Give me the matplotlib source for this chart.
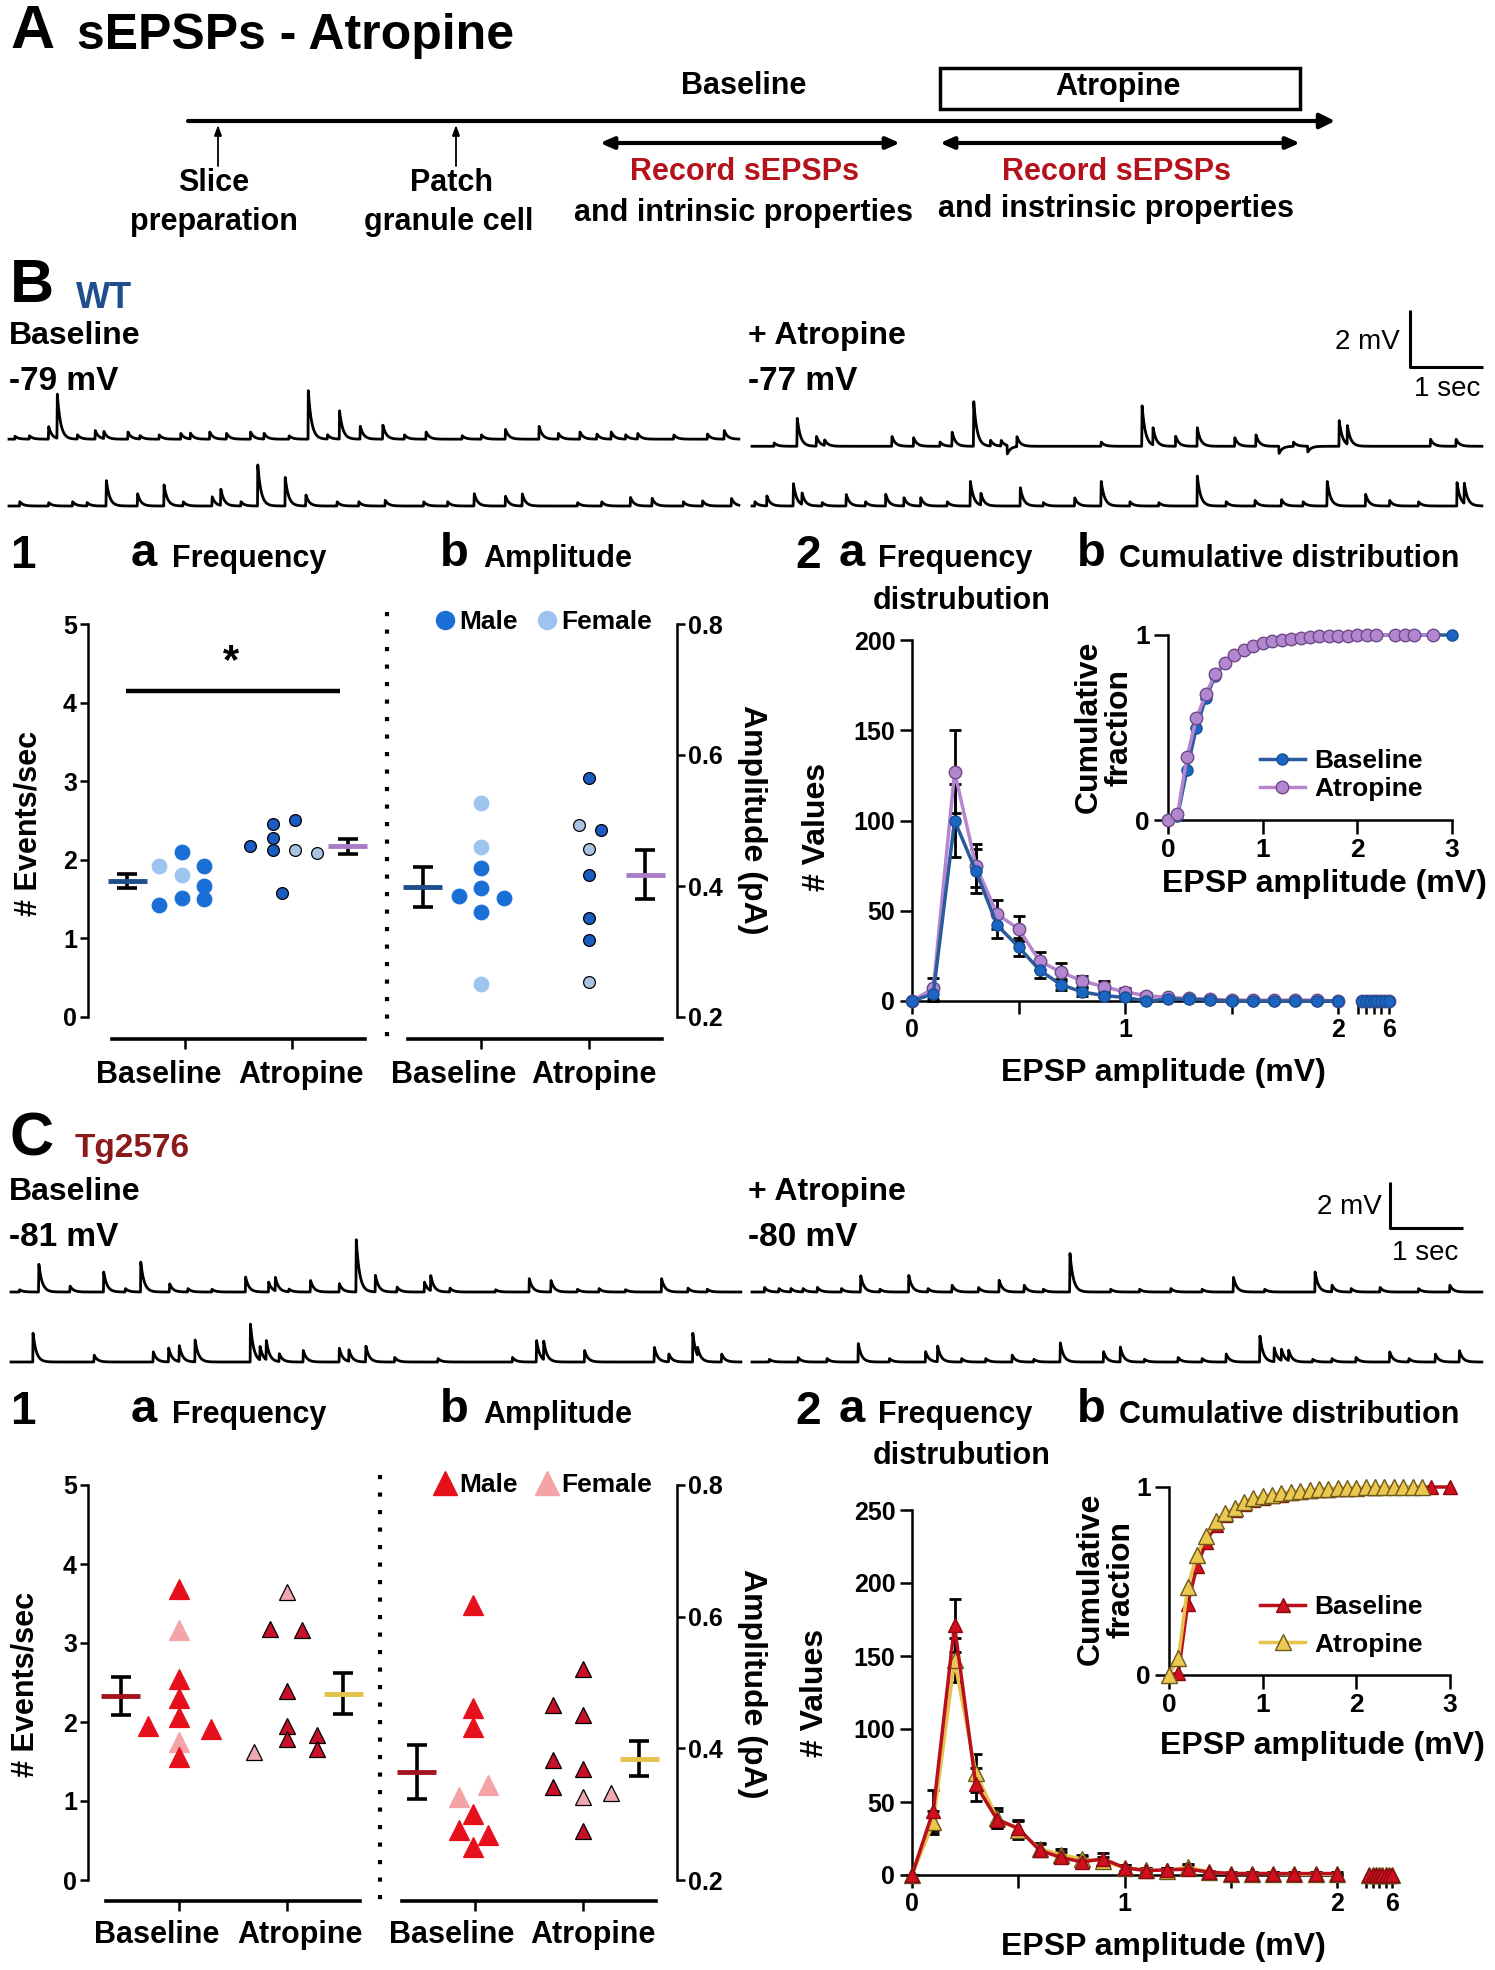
import numpy as np
import matplotlib
matplotlib.use('Agg')
import matplotlib.pyplot as plt
from matplotlib.lines import Line2D
from matplotlib.patches import Rectangle

W, H = 1495, 1970
plt.rcParams['font.family'] = ['Liberation Sans', 'DejaVu Sans']
plt.rcParams['font.weight'] = 'bold'
plt.rcParams['axes.labelweight'] = 'bold'
plt.rcParams['axes.linewidth'] = 1.8

# ---------------- data ----------------
groups = ['Baseline', 'Atropine']

# WT frequency (events/sec)
wt_freq_base = [1.92, 1.43, 2.10, 1.81, 1.52, 1.92, 1.67, 1.50]
wt_freq_base_sex = ['F', 'M', 'M', 'F', 'M', 'M', 'M', 'M']
wt_freq_atr = [2.18, 2.46, 2.28, 2.13, 1.58, 2.51, 2.13, 2.09]
wt_freq_atr_sex = ['M', 'M', 'M', 'M', 'M', 'M', 'F', 'F']
wt_freq_sem = [0.09, 0.10]
# WT amplitude
wt_amp_base = [0.385, 0.526, 0.460, 0.427, 0.397, 0.360, 0.251, 0.382]
wt_amp_base_sex = ['M', 'F', 'F', 'M', 'M', 'M', 'F', 'M']
wt_amp_atr = [0.493, 0.565, 0.457, 0.417, 0.351, 0.318, 0.254, 0.485]
wt_amp_atr_sex = ['F', 'M', 'F', 'M', 'M', 'M', 'F', 'M']
wt_amp_sem = [0.030, 0.037]

# Tg2576 frequency
tg_freq_base = [1.95, 3.68, 3.16, 2.54, 2.30, 2.06, 1.75, 1.56, 1.91]
tg_freq_base_sex = ['M', 'M', 'F', 'M', 'M', 'M', 'F', 'M', 'M']
tg_freq_atr = [1.62, 3.18, 3.64, 2.39, 1.95, 1.78, 3.16, 1.84, 1.66]
tg_freq_atr_sex = ['F', 'M', 'F', 'M', 'M', 'M', 'M', 'M', 'M']
tg_freq_sem = [0.24, 0.26]
# Tg2576 amplitude
tg_amp_base = [0.326, 0.276, 0.618, 0.461, 0.432, 0.300, 0.250, 0.345, 0.268]
tg_amp_base_sex = ['F', 'M', 'M', 'M', 'M', 'M', 'M', 'F', 'M']
tg_amp_atr = [0.466, 0.382, 0.342, 0.521, 0.450, 0.368, 0.326, 0.274, 0.332]
tg_amp_atr_sex = ['M', 'M', 'M', 'M', 'M', 'M', 'F', 'M', 'F']
tg_amp_sem = [0.041, 0.026]

# frequency distributions (# values per 0.1 mV bin)
dist_bins = [0.0, 0.1, 0.2, 0.3, 0.4, 0.5, 0.6, 0.7, 0.8, 0.9, 1.0,
             1.1, 1.2, 1.3, 1.4, 1.5, 1.6, 1.7, 1.8, 1.9, 2.0]
tail_bins = [2.5, 3.0, 3.5, 4.0, 4.5, 5.0, 5.5, 6.0]
tail_counts = [0, 0, 0, 0, 0, 0, 0, 0]
wt_dist_base = [0, 4, 100, 72, 42, 30, 17, 9, 5, 3, 2, 0, 1, 1, 0.5, 0, 0, 0, 0, 0, 0]
wt_dist_base_sem = [0, 4, 20, 12, 7, 5, 4, 3, 2, 1, 1, 0.5, 0.5, 0.5, 0.5, 0.5, 0.5, 0.5, 0.5, 0.5, 0.5]
wt_dist_atr = [0, 7, 127, 75, 48, 40, 22, 16, 11, 8, 5, 3, 2, 1.5, 1, 0.5, 0.5, 0.5, 0.5, 0.5, 0]
wt_dist_atr_sem = [0, 6, 23, 12, 8, 7, 5, 5, 3, 3, 2, 1.5, 1, 1, 1, 1, 1, 1, 1, 1, 0.5]
tg_dist_base = [0, 44, 171, 62, 38, 32, 17, 12, 9, 11, 5, 3, 3.5, 4, 2, 1, 1, 1, 1, 1, 1]
tg_dist_base_sem = [0, 14, 18, 11, 6, 6, 4, 4, 3, 4, 2, 1.5, 1.5, 2, 1, 1, 1, 1, 1, 1, 1]
tg_dist_atr = [0, 36, 147, 70, 39, 31, 18, 14, 11, 9.5, 5, 3.5, 3, 5.5, 2, 1, 1, 1, 0.5, 0.5, 0.5]
tg_dist_atr_sem = [0, 8, 15, 13, 7, 6, 4, 4, 3, 3, 2, 1.5, 1.5, 2, 1, 1, 1, 1, 1, 0.5, 0.5]

# cumulative distributions
wt_cum_base_x = [0.0, 0.1, 0.2, 0.3, 0.4, 0.5, 0.6, 0.7, 0.8, 0.9, 1.0, 1.1, 1.2,
                 1.3, 1.4, 1.5, 1.6, 1.7, 1.8, 1.9, 2.0, 2.2, 2.4, 2.6, 2.8, 3.0]
wt_cum_base = [0, 0.02, 0.27, 0.50, 0.66, 0.78, 0.85, 0.89, 0.92, 0.94, 0.955, 0.965, 0.975,
               0.98, 0.985, 0.99, 0.992, 0.994, 0.996, 0.997, 0.998, 0.999, 1, 1, 1, 1]
wt_cum_atr_x = [0.0, 0.1, 0.2, 0.3, 0.4, 0.5, 0.6, 0.7, 0.8, 0.9, 1.0, 1.1, 1.2,
                1.3, 1.4, 1.5, 1.6, 1.7, 1.8, 1.9, 2.0, 2.1, 2.2, 2.4, 2.5, 2.6, 2.8]
wt_cum_atr = [0, 0.03, 0.34, 0.55, 0.68, 0.79, 0.85, 0.89, 0.92, 0.94, 0.955, 0.965, 0.975,
              0.98, 0.985, 0.99, 0.992, 0.994, 0.996, 0.997, 0.998, 0.999, 1, 1, 1, 1, 1]
tg_cum_base_x = [0.0, 0.1, 0.2, 0.3, 0.4, 0.5, 0.6, 0.7, 0.8, 0.9, 1.0, 1.1, 1.2,
                 1.3, 1.4, 1.5, 1.6, 1.7, 1.8, 1.9, 2.0, 2.2, 2.4, 2.6, 2.8, 3.0]
tg_cum_base = [0, 0.01, 0.38, 0.58, 0.71, 0.80, 0.85, 0.88, 0.91, 0.93, 0.94, 0.95, 0.96,
               0.967, 0.973, 0.978, 0.982, 0.986, 0.99, 0.992, 0.994, 0.996, 0.998, 0.999, 1, 1]
tg_cum_atr_x = [0.0, 0.1, 0.2, 0.3, 0.4, 0.5, 0.6, 0.7, 0.8, 0.9, 1.0, 1.1, 1.2, 1.3,
                1.4, 1.5, 1.6, 1.7, 1.8, 1.9, 2.0, 2.1, 2.2, 2.3, 2.4, 2.5, 2.6, 2.7]
tg_cum_atr = [0, 0.09, 0.47, 0.64, 0.74, 0.82, 0.86, 0.89, 0.92, 0.94, 0.95, 0.96, 0.97, 0.975,
              0.98, 0.985, 0.99, 0.992, 0.994, 0.996, 0.997, 0.998, 0.999, 1, 1, 1, 1, 1]

# example traces: (time s, EPSP amplitude mV)
wt_base_top = [(0.078, 0.1), (0.275, 0.12), (0.539, 0.45), (0.657, 1.58), (0.934, 0.15), (1.178, 0.3),
               (1.296, 0.25), (1.626, 0.25), (1.79, 0.12), (2.054, 0.15), (2.35, 0.2), (2.482, 0.2),
               (2.746, 0.25), (2.976, 0.2), (3.306, 0.25), (3.49, 0.2), (3.833, 0.12), (4.096, 1.7),
               (4.36, 0.15), (4.524, 0.99), (4.808, 0.45), (5.117, 0.5), (5.414, 0.15), (5.71, 0.25),
               (6.204, 0.12), (6.468, 0.15), (6.797, 0.35), (7.258, 0.45), (7.522, 0.2), (7.818, 0.25),
               (8.049, 0.18), (8.246, 0.25), (8.444, 0.15), (8.609, 0.2), (9.103, 0.15), (9.564, 0.18),
               (9.794, 0.3)]
wt_base_bot = [(0.144, 0.15), (0.539, 0.12), (0.868, 0.15), (1.066, 0.12), (1.329, 0.91), (1.757, 0.44),
               (2.12, 0.74), (2.383, 0.15), (2.779, 0.33), (2.897, 0.58), (3.174, 0.15), (3.404, 1.44),
               (3.78, 1.0), (4.063, 0.39), (4.491, 0.15), (4.788, 0.15), (5.15, 0.2), (5.677, 0.15),
               (6.006, 0.15), (6.369, 0.44), (6.797, 0.35), (7.028, 0.42), (7.785, 0.12), (8.115, 0.15),
               (8.51, 0.3), (8.806, 0.27), (9.234, 0.15), (9.498, 0.18), (9.893, 0.27)]
wt_atr_top = [(0.299, 0.12), (0.615, 1.0), (0.879, 0.35), (0.991, 0.2), (1.913, 0.35), (2.21, 0.3),
              (2.572, 0.15), (2.737, 0.5), (3.033, 1.6), (3.264, 0.2), (3.409, 0.2), (3.494, -0.3),
              (3.626, 0.35), (4.779, 0.15), (5.339, 1.45), (5.49, 0.6), (5.8, 0.35), (6.096, 0.65),
              (6.61, 0.3), (6.9, 0.4), (7.216, -0.25), (7.414, 0.15), (7.61, -0.2), (8.04, 0.9),
              (8.152, 0.65), (9.291, 0.25), (9.641, 0.25)]
wt_atr_bot = [(0.036, 0.15), (0.2, 0.35), (0.563, 0.8), (0.681, 0.41), (0.958, 0.12), (1.287, 0.41),
              (1.551, 0.15), (1.828, 0.41), (2.078, 0.29), (2.308, 0.29), (2.671, 0.15), (2.987, 0.88),
              (3.132, 0.41), (3.672, 0.64), (3.988, 0.12), (4.417, 0.29), (4.779, 0.88), (5.174, 0.15),
              (5.569, 0.12), (6.096, 1.05), (6.492, 0.15), (6.887, 0.2), (7.249, 0.23), (7.546, 0.15),
              (7.875, 0.88), (8.402, 0.41), (8.731, 0.2), (9.127, 0.15), (9.654, 0.82), (9.753, 0.73)]
tg_base_top = [(0.113, 0.1), (0.377, 1.23), (0.805, 0.26), (1.266, 0.87), (1.563, 0.15), (1.774, 1.3),
               (2.169, 0.36), (2.419, 0.15), (2.749, 0.12), (3.21, 0.65), (3.526, 0.43), (3.618, 0.58),
               (3.803, 0.12), (4.099, 0.51), (4.494, 0.36), (4.725, 2.32), (4.988, 0.72), (5.285, 0.22),
               (5.66, 0.43), (5.746, 0.65), (6.009, 0.17), (6.635, 0.1), (7.096, 0.58), (7.393, 0.51),
               (7.755, 0.12), (8.052, 0.15), (8.414, 0.1), (8.908, 0.58), (9.27, 0.17), (9.534, 0.12)]
tg_base_bot = [(0.298, 1.25), (1.135, 0.3), (1.945, 0.45), (2.156, 0.6), (2.301, 0.7), (2.518, 0.95),
               (3.276, 1.65), (3.407, 0.6), (3.493, 0.85), (3.671, 0.35), (4.0, 0.5), (4.494, 0.6),
               (4.626, 0.5), (4.857, 0.7), (5.252, 0.2), (5.845, 0.15), (6.866, 0.2), (7.195, 0.95),
               (7.294, 0.8), (7.854, 0.5), (8.809, 0.65), (9.007, 0.35), (9.336, 1.25), (9.402, 0.35),
               (9.731, 0.35)]
tg_atr_top = [(0.168, 0.2), (0.365, 0.15), (0.53, 0.15), (0.695, 0.15), (0.892, 0.2), (1.222, 0.15),
              (1.485, 0.72), (1.749, 0.12), (2.144, 0.72), (2.407, 0.15), (2.737, 0.3), (3.099, 0.2),
              (3.382, 0.51), (3.725, 0.3), (3.988, 0.12), (4.351, 1.71), (4.91, 0.12), (5.306, 0.12),
              (5.734, 0.15), (6.162, 0.12), (6.591, 0.65), (7.019, 0.12), (7.71, 0.87), (7.941, 0.3),
              (8.204, 0.15), (8.6, 0.2), (9.127, 0.15), (9.555, 0.3)]
tg_atr_bot = [(0.233, 0.12), (0.629, 0.2), (1.024, 0.15), (1.452, 0.8), (1.88, 0.15), (2.374, 0.45),
              (2.539, 0.7), (2.868, 0.15), (3.198, 0.15), (3.56, 0.3), (3.857, 0.12), (4.219, 0.85),
              (4.812, 0.45), (5.042, 0.65), (5.372, 0.12), (5.833, 0.2), (6.162, 0.15), (6.492, 0.35),
              (6.953, 1.15), (7.15, 0.6), (7.249, 0.5), (7.348, 0.45), (7.677, 0.12), (7.941, 0.15),
              (8.27, 0.2), (8.731, 0.45), (8.995, 0.15), (9.357, 0.35), (9.687, 0.5)]

# ---------------- layout helpers ----------------
fig = plt.figure(figsize=(W / 100, H / 100), dpi=100)


def px_axes(x0, y0, x1, y1):
    return fig.add_axes([x0 / W, 1 - y1 / H, (x1 - x0) / W, (y1 - y0) / H])


ov = fig.add_axes([0, 0, 1, 1])
ov.set_xlim(0, W)
ov.set_ylim(H, 0)
ov.axis('off')


def T(x, y, s, size=20, ha='left', **kw):
    ov.text(x, y, s, fontsize=size, ha=ha, va='center', **kw)


RED = '#b5121b'

# ---------------- panel A ----------------
T(10, 32, 'A', 44)
T(77, 36, 'sEPSPs - Atropine', 36)
T(744, 86, 'Baseline', 22, ha='center')
ov.add_patch(Rectangle((940, 68), 360, 41, fill=False, lw=2.5, ec='k'))
T(1118, 87, 'Atropine', 22, ha='center')
ov.annotate('', xy=(1335, 121), xytext=(188, 121),
            arrowprops=dict(arrowstyle='-|>,head_length=0.9,head_width=0.45', lw=3, color='k',
                            shrinkA=0, shrinkB=0))
for xa in (218, 456):
    ov.annotate('', xy=(xa, 125), xytext=(xa, 166),
                arrowprops=dict(arrowstyle='-|>,head_length=0.6,head_width=0.22', lw=1.3,
                                color='k', shrinkA=0, shrinkB=0))
for xa0, xa1 in ((600, 900), (940, 1300)):
    ov.annotate('', xy=(xa1, 143), xytext=(xa0, 143),
                arrowprops=dict(arrowstyle='<|-|>,head_length=0.8,head_width=0.35', lw=3,
                                color='k', shrinkA=0, shrinkB=0))
T(214, 183, 'Slice', 22, ha='center')
T(214, 222, 'preparation', 22, ha='center')
T(452, 183, 'Patch', 22, ha='center')
T(449, 222, 'granule cell', 22, ha='center')
T(744, 172, 'Record sEPSPs', 22, ha='center', color=RED)
T(744, 213, 'and intrinsic properties', 22, ha='center')
T(1116, 172, 'Record sEPSPs', 22, ha='center', color=RED)
T(1116, 209, 'and instrinsic properties', 22, ha='center')


# ---------------- traces ----------------
def trace(events, dur=10.0, dt=0.002, rise=0.004, tau=0.045):
    t = np.arange(0, dur, dt)
    v = np.zeros_like(t)
    for t0, a in events:
        s = t - t0
        up = (s >= 0) & (s < rise)
        v[up] += a * s[up] / rise
        dn = s >= rise
        v[dn] += a * np.exp(-(s[dn] - rise) / tau)
    return t, v


def trace_axes(y0px, y1px, zero_px, ppm, traces, bar):
    ax = px_axes(0, y0px, W, y1px)
    ax.set_xlim(0, W / 73)
    ax.set_ylim(-(y1px - zero_px) / ppm, (zero_px - y0px) / ppm)
    ax.axis('off')
    for ev, x_off, y_off in traces:
        t, v = trace(ev)
        ax.plot(t + x_off, v + y_off, color='k', lw=2.0)
    bx, by = bar
    ax.plot([bx, bx, bx + 1], [by + 2, by, by], color='k', lw=2.2, solid_capstyle='butt')
    return ax


BOT_B = -64 / 28.5
trace_axes(300, 540, 442, 28.5,
           [(wt_base_top, 9 / 73, 0.1), (wt_base_bot, 9 / 73, BOT_B),
            (wt_atr_top, 752 / 73, -0.15), (wt_atr_bot, 752 / 73, BOT_B)],
           (1410 / 73, 75 / 28.5))
BOT_C = -70 / 23
trace_axes(1170, 1400, 1292, 23,
           [(tg_base_top, 11 / 73, 0), (tg_base_bot, 11 / 73, BOT_C),
            (tg_atr_top, 752 / 73, 0), (tg_atr_bot, 752 / 73, BOT_C)],
           (1390 / 73, 64 / 23))

# section B/C headers
T(10, 287, 'B', 44)
T(76, 298, 'WT', 26, color='#1f4e8c')
T(9, 336, 'Baseline', 23)
T(9, 381, '-79 mV', 24)
T(748, 336, '+ Atropine', 23)
T(748, 381, '-77 mV', 24)
T(1400, 342, '2 mV', 20, ha='right', fontweight='normal')
T(1447, 389, '1 sec', 20, ha='center', fontweight='normal')

T(10, 1140, 'C', 44)
T(75, 1148, 'Tg2576', 24, color='#8b1a1a')
T(9, 1192, 'Baseline', 23)
T(9, 1237, '-81 mV', 24)
T(748, 1192, '+ Atropine', 23)
T(748, 1237, '-80 mV', 24)
T(1382, 1207, '2 mV', 20, ha='right', fontweight='normal')
T(1425, 1253, '1 sec', 20, ha='center', fontweight='normal')

for yrow, ydis in ((556, 601), (1412, 1456)):
    T(10, yrow, '1', 33)
    T(131, yrow - 2, 'a', 34)
    T(172, yrow + 3, 'Frequency', 22)
    T(440, yrow - 2, 'b', 34)
    T(483, yrow + 3, 'Amplitude', 22)
    T(795, yrow, '2', 33)
    T(839, yrow - 2, 'a', 34)
    T(878, yrow + 3, 'Frequency', 22)
    T(962, ydis, 'distrubution', 22, ha='center')
    T(1077, yrow - 2, 'b', 34)
    T(1119, yrow + 3, 'Cumulative distribution', 22)


# ---------------- group scatter panels ----------------
def group_panel(box, xlim, ylim, yticks, side, spine_off, vals, sexes, offs, sems, pal, marker):
    ax = px_axes(*box)
    ax.set_xlim(*xlim)
    ax.set_ylim(*ylim)
    ax.patch.set_alpha(0)
    for sp in ('top', 'left', 'right'):
        ax.spines[sp].set_visible(False)
    ax.spines[side].set_visible(True)
    ax.spines[side].set_bounds(*ylim)
    ax.spines['bottom'].set_position(('outward', spine_off))
    ax.spines['bottom'].set_bounds(-0.68, 1.68)
    ax.spines['bottom'].set_linewidth(2.6)
    ax.set_xticks([0, 1])
    ax.set_xticklabels([])
    ax.tick_params(axis='x', length=7, width=1.8)
    if side == 'right':
        ax.yaxis.tick_right()
    ax.set_yticks(yticks)
    ax.set_yticklabels([f'{v:g}' for v in yticks], fontsize=18)
    ax.tick_params(axis='y', length=6, width=1.8, pad=2)
    for gi in range(2):
        for v, sx, o in zip(vals[gi], sexes[gi], offs[gi]):
            key = ('M' if sx == 'M' else 'F') + str(gi)
            fc, ec, ms = pal[key]
            ax.plot(gi + o, v, marker=marker, ms=ms, mfc=fc, mec=ec, mew=0.9,
                    ls='none', clip_on=False, zorder=3)
        m = np.mean(vals[gi])
        xm = -0.54 if gi == 0 else 1.52
        ax.errorbar(xm, m, yerr=sems[gi], fmt='none', ecolor='k', elinewidth=2.6,
                    capsize=7, capthick=2.6, zorder=2)
        ax.plot([xm - 0.18, xm + 0.18], [m, m], color=pal['mean' + str(gi)], lw=3.5,
                solid_capstyle='butt', zorder=4)
    return ax


wt_pal = {'M0': ('#1a6fd6', '#1a6fd6', 10.5), 'F0': ('#9cc4ef', '#9cc4ef', 10.5),
          'M1': ('#1a5cc0', 'k', 8.5), 'F1': ('#a9c3e3', 'k', 8.5),
          'mean0': '#1f4e8c', 'mean1': '#a97cc7'}
tg_pal = {'M0': ('#e6101c', '#e6101c', 14), 'F0': ('#f4a3a6', '#f4a3a6', 14),
          'M1': ('#c8102a', 'k', 11), 'F1': ('#f0a8b0', 'k', 11),
          'mean0': '#a3141e', 'mean1': '#e3c24a'}

wt_fb_off = [-0.24, -0.24, -0.03, -0.03, -0.03, 0.18, 0.18, 0.18]
wt_fa_off = [-0.39, -0.18, -0.18, -0.18, -0.09, 0.03, 0.03, 0.23]
wt_ab_off = [-0.2, 0, 0, 0, 0, 0, 0, 0.21]
wt_aa_off = [-0.09, 0, 0, 0, 0, 0, 0, 0.11]
tg_fb_off = [-0.29, 0, 0, 0, 0, 0, 0, 0, 0.3]
tg_fa_off = [-0.31, -0.16, 0, 0, 0, 0, 0.14, 0.28, 0.28]
tg_ab_off = [-0.15, -0.15, -0.02, -0.02, -0.02, -0.02, -0.02, 0.12, 0.12]
tg_aa_off = [-0.28, -0.28, -0.28, 0, 0, 0, 0, 0, 0.26]

ax = group_panel((88, 624, 372, 1017), (-0.907, 1.748), (0, 5), [0, 1, 2, 3, 4, 5], 'left', 16,
                 [wt_freq_base, wt_freq_atr], [wt_freq_base_sex, wt_freq_atr_sex],
                 [wt_fb_off, wt_fa_off], wt_freq_sem, wt_pal, 'o')
ax.plot([-0.55, 1.45], [4.15, 4.15], color='k', lw=3.2, solid_capstyle='butt')
ax.text(0.43, 4.52, '*', ha='center', va='center', fontsize=30)

ax = group_panel((395, 624, 677, 1017), (-0.796, 1.815), (0.2, 0.8), [0.2, 0.4, 0.6, 0.8], 'right', 16,
                 [wt_amp_base, wt_amp_atr], [wt_amp_base_sex, wt_amp_atr_sex],
                 [wt_ab_off, wt_aa_off], wt_amp_sem, wt_pal, 'o')
ax.legend(handles=[Line2D([], [], marker='o', ls='none', ms=13, mfc='#1a6fd6', mec='#1a6fd6'),
                   Line2D([], [], marker='o', ls='none', ms=13, mfc='#9cc4ef', mec='#9cc4ef')],
          labels=['Male', 'Female'], ncol=2, frameon=False, fontsize=19, loc='center',
          bbox_to_anchor=(0.52, 1.005), handletextpad=0.05, columnspacing=0.6, handlelength=1.0)

ax = group_panel((88, 1485, 372, 1880), (-0.843, 1.787), (0, 5), [0, 1, 2, 3, 4, 5], 'left', 15,
                 [tg_freq_base, tg_freq_atr], [tg_freq_base_sex, tg_freq_atr_sex],
                 [tg_fb_off, tg_fa_off], tg_freq_sem, tg_pal, '^')
ax = group_panel((395, 1485, 677, 1880), (-0.741, 1.870), (0.2, 0.8), [0.2, 0.4, 0.6, 0.8], 'right', 15,
                 [tg_amp_base, tg_amp_atr], [tg_amp_base_sex, tg_amp_atr_sex],
                 [tg_ab_off, tg_aa_off], tg_amp_sem, tg_pal, '^')
ax.legend(handles=[Line2D([], [], marker='^', ls='none', ms=17, mfc='#e6101c', mec='#e6101c'),
                   Line2D([], [], marker='^', ls='none', ms=17, mfc='#f4a3a6', mec='#f4a3a6')],
          labels=['Male', 'Female'], ncol=2, frameon=False, fontsize=19, loc='center',
          bbox_to_anchor=(0.52, 1.0), handletextpad=0.05, columnspacing=0.6, handlelength=1.0)

# category labels (Prism spreads them slightly away from the ticks)
for y_lab, xs in ((1075, (159, 301, 454, 594)), (1935, (157, 300, 452, 593))):
    for xc, lab in zip(xs, groups * 2):
        T(xc, y_lab, lab, 22, ha='center')

for xd, y0, y1 in ((387, 612, 1045), (380, 1475, 1911)):
    ov.plot([xd, xd], [y0, y1], color='k', lw=3, ls=(0, (1, 3.2)))

T(29, 823, '# Events/sec', 22, ha='center', rotation=90)
T(752, 820, 'Amplitude (pA)', 23, ha='center', rotation=270)
T(26, 1684, '# Events/sec', 22, ha='center', rotation=90)
T(752, 1684, 'Amplitude (pA)', 23, ha='center', rotation=270)


# ---------------- distribution panels ----------------
def dist_panel(box, tail_box, ymax, yticks, base, base_sem, atr, atr_sem, st):
    ax = px_axes(*box)
    ax.set_xlim(0, 2)
    ax.set_ylim(0, ymax)
    ax.patch.set_alpha(0)
    ax.spines[['top', 'right']].set_visible(False)
    ax.set_xticks([0, 0.5, 1, 1.5, 2])
    ax.set_xticklabels(['0', '', '1', '', '2'], fontsize=18)
    ax.set_yticks(yticks)
    ax.set_yticklabels([str(v) for v in yticks], fontsize=18)
    ax.tick_params(length=9, width=1.8, pad=3)
    tx = px_axes(*tail_box)
    tx.set_xlim(2, 6)
    tx.set_ylim(0, ymax)
    tx.patch.set_alpha(0)
    tx.spines[['top', 'right', 'left']].set_visible(False)
    tx.set_yticks([])
    tx.set_xticks([2, 3, 4, 5, 6])
    tx.set_xticklabels(['', '', '', '', '6'], fontsize=18)
    tx.tick_params(length=9, width=1.8, pad=3)
    for ys, es, key in ((atr, atr_sem, 'a'), (base, base_sem, 'b')):
        ax.errorbar(dist_bins, ys, yerr=es, fmt='none', ecolor='k', elinewidth=2,
                    capsize=4, capthick=2, clip_on=False, zorder=2)
        lc, fc, ec, mk, ms = st[key]
        ax.plot(dist_bins, ys, color=lc, lw=2.5, marker=mk, ms=ms, mfc=fc, mec=ec,
                mew=1.0, clip_on=False, zorder=3)
        tx.plot(tail_bins, tail_counts, color=lc, lw=2.5, marker=mk, ms=ms, mfc=fc, mec=ec,
                mew=1.0, clip_on=False, zorder=3)
    return ax


def cum_panel(box, bx, by, axx, ay, st, legend_anchor, spacing):
    ax = px_axes(*box)
    ax.set_xlim(0, 3)
    ax.set_ylim(0, 1)
    ax.patch.set_alpha(0)
    ax.spines[['top', 'right']].set_visible(False)
    ax.set_xticks([0, 1, 2, 3])
    ax.set_yticks([0, 1])
    ax.tick_params(length=10, width=1.8, pad=3, labelsize=19)
    hs = []
    for xs, ys, key in ((bx, by, 'b'), (axx, ay, 'a')):
        lc, fc, ec, mk, ms = st[key]
        h, = ax.plot(xs, ys, color=lc, lw=2.5, marker=mk, ms=ms, mfc=fc, mec=ec, mew=1.0,
                     clip_on=False, zorder=3)
        hs.append(h)
    ax.legend(hs, groups, frameon=False, fontsize=19, loc='upper left',
              bbox_to_anchor=legend_anchor, handlelength=1.7, handletextpad=0.35,
              labelspacing=spacing)
    return ax


wt_st = {'b': ('#2a5c9c', '#1a66c2', '#1a4f96', 'o', 8),
         'a': ('#b585cf', '#b287cf', '#6e4a88', 'o', 9)}
tg_st = {'b': ('#b8101c', '#d0101e', '#8a0a10', '^', 10),
         'a': ('#e6c24c', '#ecc850', '#6d5a1c', '^', 11)}

dist_panel((912, 640, 1338, 1001), (1358, 640, 1389, 1001), 200, [0, 50, 100, 150, 200],
           wt_dist_base, wt_dist_base_sem, wt_dist_atr, wt_dist_atr_sem, wt_st)
cum_panel((1168, 635, 1452, 820), wt_cum_base_x, wt_cum_base, wt_cum_atr_x, wt_cum_atr, wt_st,
          (0.24, 0.51), 0.15)
dist_panel((912, 1510, 1337, 1875), (1366, 1510, 1392, 1875), 250, [0, 50, 100, 150, 200, 250],
           tg_dist_base, tg_dist_base_sem, tg_dist_atr, tg_dist_atr_sem, tg_st)
cum_panel((1169, 1487, 1450, 1675), tg_cum_base_x, tg_cum_base, tg_cum_atr_x, tg_cum_atr, tg_st,
          (0.24, 0.55), 0.5)

T(817, 827, '# Values', 23, ha='center', rotation=90)
T(1104, 727, 'Cumulative\nfraction', 23, ha='center', rotation=90, linespacing=1.0)
T(1324, 884, 'EPSP amplitude (mV)', 23, ha='center')
T(1163, 1073, 'EPSP amplitude (mV)', 23, ha='center')
T(815, 1693, '# Values', 23, ha='center', rotation=90)
T(1106, 1579, 'Cumulative\nfraction', 23, ha='center', rotation=90, linespacing=1.0)
T(1322, 1746, 'EPSP amplitude (mV)', 23, ha='center')
T(1163, 1947, 'EPSP amplitude (mV)', 23, ha='center')

fig.savefig('out.png', dpi=100)
